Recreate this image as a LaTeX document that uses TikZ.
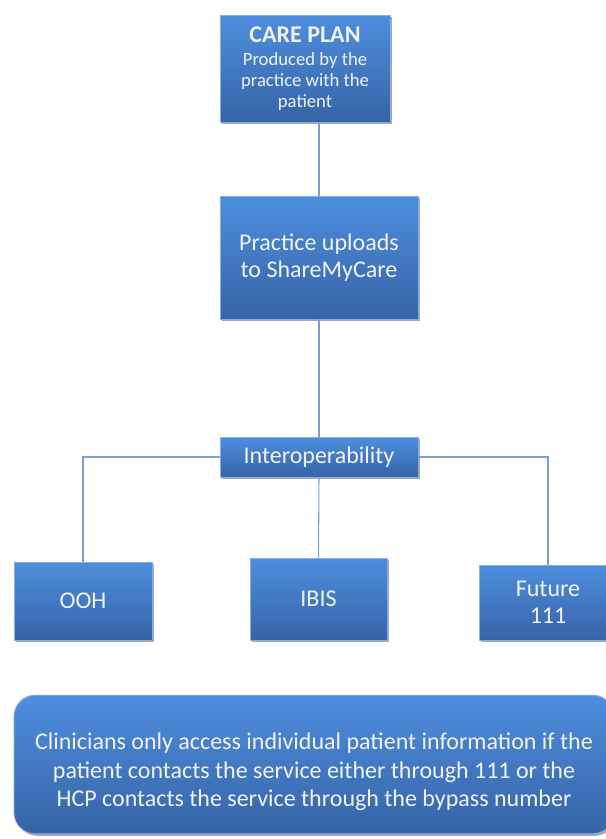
\documentclass[tikz,border=0pt]{standalone}
\usepackage{fontspec}
\setmainfont{Carlito}
\usetikzlibrary{positioning}

\definecolor{boxtop}{RGB}{78,142,222}
\definecolor{boxbottom}{RGB}{54,100,166}
\definecolor{linkblue}{RGB}{122,160,207}
\newcommand{\subtxt}{\fontsize{14}{15.75}\selectfont}

\begin{document}
\begin{tikzpicture}
	[x=0.75pt,y=-0.75pt,
	 every node/.style={text=white!95!black,align=center,font=\fontsize{18}{20.5}\selectfont},
	 bluebox/.style={draw=boxtop!70!white,line width=0.6pt,top color=boxtop,bottom color=boxbottom,
		preaction={fill=black,fill opacity=0.35,transform canvas={xshift=1.5pt,yshift=-1.5pt}},inner sep=0pt},
	 link/.style={draw=linkblue,line width=0.8pt}]
	\useasboundingbox (0,0) rectangle (606,839);
	% boxes
	\node[bluebox,minimum width=127.5pt,minimum height=80.25pt] (careplan) at (305,68.5)
		{\bfseries CARE PLAN\\[-3.5pt]
		 \subtxt Produced by the\\[-4.75pt] \subtxt practice with the\\[-4.75pt] \subtxt patient};
	\node[bluebox,minimum width=148.5pt,minimum height=92.25pt] (practice) at (319,257.5)
		{Practice uploads\\to ShareMyCare};
	\node[bluebox,minimum width=148.5pt,minimum height=30pt] (interop) at (319,457)
		{Interoperability};
	\node[bluebox,minimum width=103.5pt,minimum height=58.5pt] (ooh) at (83,601) {OOH};
	\node[bluebox,minimum width=102.75pt,minimum height=61.5pt] (ibis) at (318.5,599) {IBIS};
	\node[bluebox,minimum width=103.5pt,minimum height=56.25pt] (future) at (548,602.5) {Future\\111};
	\node[bluebox,rounded corners=16pt,minimum width=450pt,minimum height=104pt] (note) at (314,764.5) {};
	\node[font=\fontsize{18}{21.4}\selectfont] (notetext) at (314,772)
		{Clinicians only access individual patient information if the\\
		 patient contacts the service either through 111 or the\\
		 HCP contacts the service through the bypass number};
	% connectors
	\draw[link] (practice.north) -- (practice.north |- careplan.south);
	\draw[link] (practice.south) -- (interop.north);
	\draw[link] (interop.south) -- (ibis.north);
	\draw[link] (interop.west) -| (ooh.north);
	\draw[link] (interop.east) -| (future.north);
\end{tikzpicture}
\end{document}
